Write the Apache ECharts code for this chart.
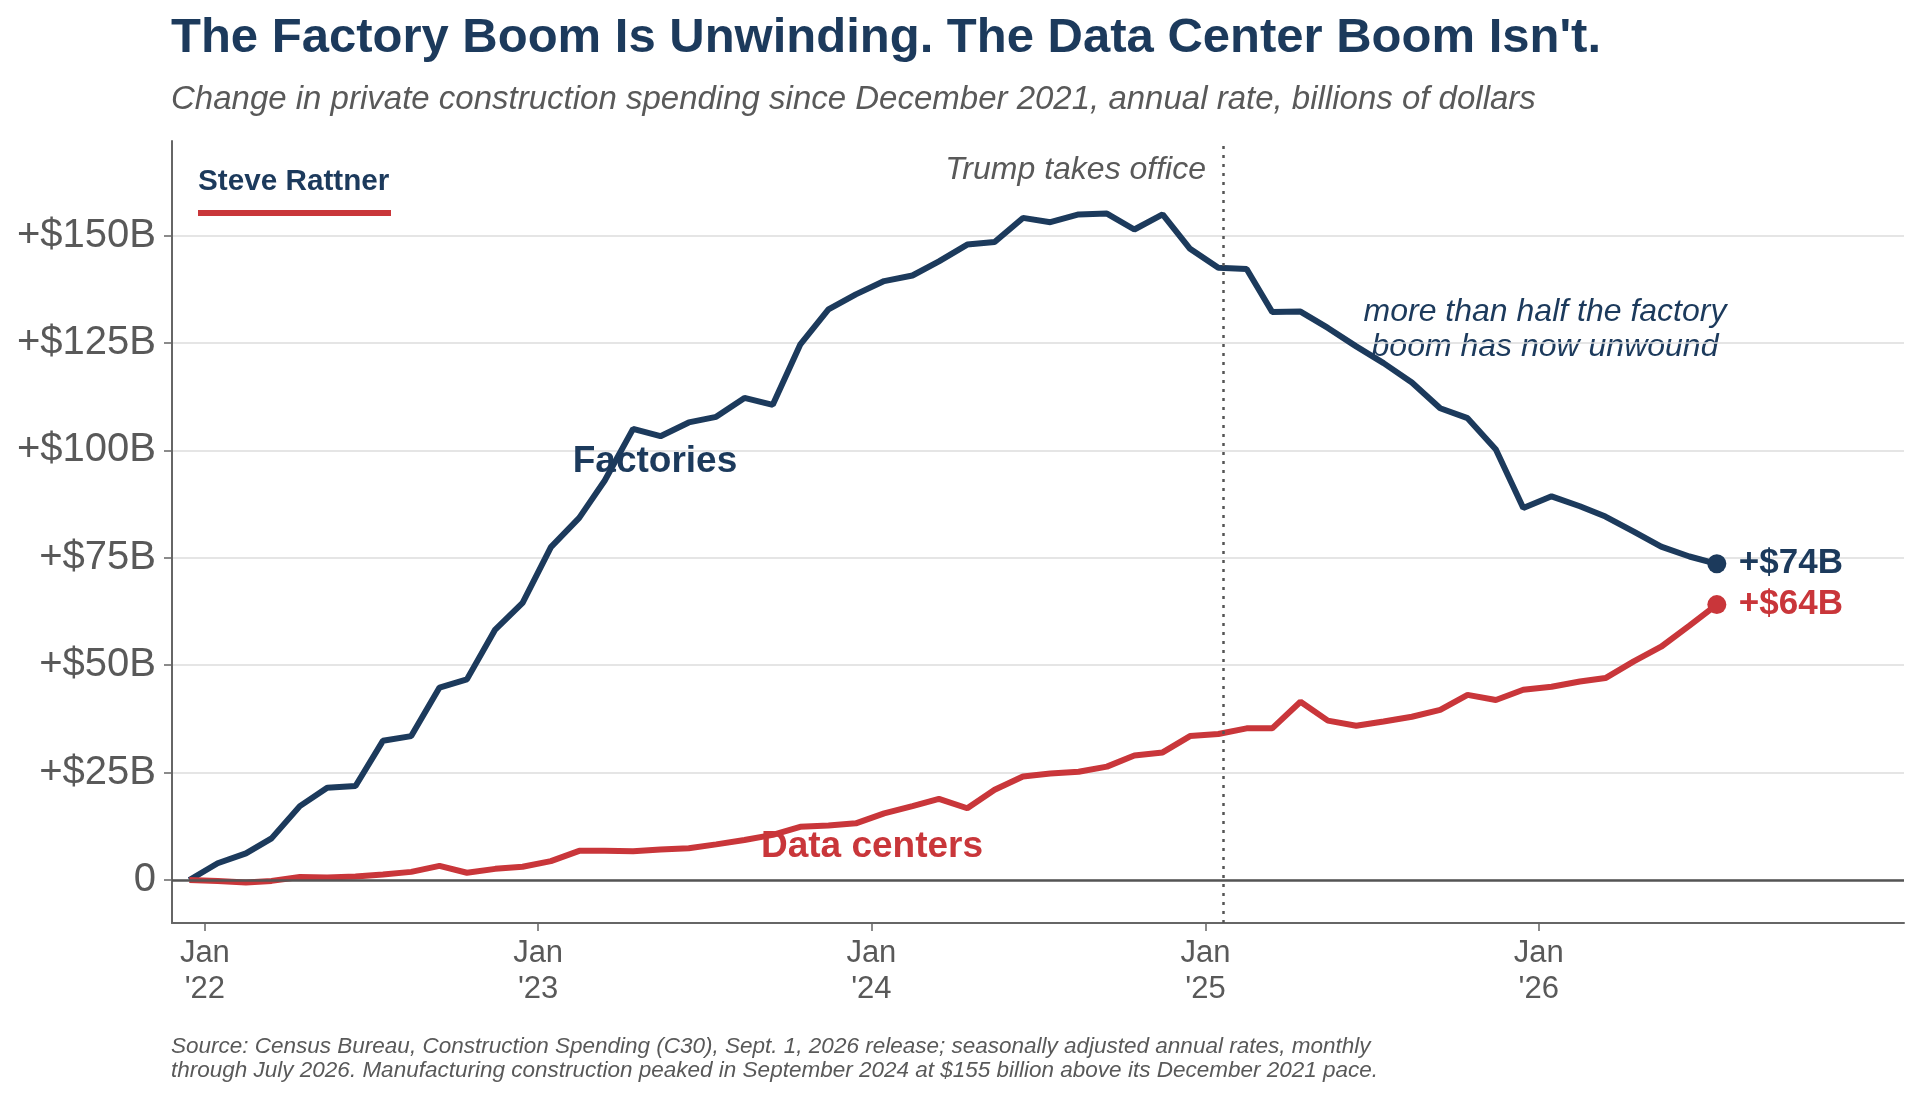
<!DOCTYPE html>
<html>
<head>
<meta charset="utf-8">
<script src="https://cdn.jsdelivr.net/npm/echarts@6.0.0/dist/echarts.min.js"></script>
<style>
  html, body { margin: 0; padding: 0; background: #fff; }
  #chart { width: 1920px; height: 1098px; }
</style>
</head>
<body>
<div id="chart"></div>
<script>
// monthly readings, Dec 2021 .. Jul 2026
const months = [
  '2021-12',
  '2022-01', '2022-02', '2022-03', '2022-04', '2022-05', '2022-06', '2022-07', '2022-08', '2022-09', '2022-10', '2022-11', '2022-12',
  '2023-01', '2023-02', '2023-03', '2023-04', '2023-05', '2023-06', '2023-07', '2023-08', '2023-09', '2023-10', '2023-11', '2023-12',
  '2024-01', '2024-02', '2024-03', '2024-04', '2024-05', '2024-06', '2024-07', '2024-08', '2024-09', '2024-10', '2024-11', '2024-12',
  '2025-01', '2025-02', '2025-03', '2025-04', '2025-05', '2025-06', '2025-07', '2025-08', '2025-09', '2025-10', '2025-11', '2025-12',
  '2026-01', '2026-02', '2026-03', '2026-04', '2026-05', '2026-06', '2026-07'
];

const factories = [
  0,
  3.9, 6.2, 9.7, 17.2, 21.5, 21.9, 32.4, 33.5, 44.8, 46.7, 58.3, 64.5,
  77.5, 84.3, 93.0, 105.0, 103.3, 106.5, 107.8, 112.2, 110.6, 124.6, 132.8, 136.3,
  139.4, 140.7, 144.0, 147.9, 148.5, 154.1, 153.1, 154.9, 155.1, 151.4, 154.9, 146.9,
  142.5, 142.2, 132.2, 132.3, 128.5, 124.2, 120.3, 115.8, 109.8, 107.5, 100.2, 86.6,
  89.3, 87.0, 84.6, 81.1, 77.6, 75.3, 73.6
];

const dataCenters = [
  0,
  -0.2, -0.6, -0.2, 0.7, 0.6, 0.8, 1.3, 1.9, 3.3, 1.7, 2.6, 3.1,
  4.4, 6.8, 6.8, 6.7, 7.1, 7.4, 8.3, 9.3, 10.5, 12.4, 12.7, 13.2,
  15.5, 17.2, 18.9, 16.7, 21.0, 24.1, 24.8, 25.2, 26.4, 29.0, 29.7, 33.5,
  34.0, 35.3, 35.3, 41.5, 37.1, 35.9, 36.9, 38.0, 39.6, 43.1, 41.9, 44.3,
  45.0, 46.2, 47.0, 50.9, 54.3, 59.2, 64.1
];

const yTicks = [0, 25, 50, 75, 100, 125, 150];
const xTicks = ['2022-01-01', '2023-01-01', '2024-01-01', '2025-01-01', '2026-01-01'];
const trumpDate = '2025-01-20';
const xRange = ['2021-11-26', '2027-02-05'];

const NAVY = '#1c3a5c';
const RED = '#c9363a';
const GREY = '#595959';
const FONT = '"Liberation Sans", Arial, sans-serif';

const ms = s => Date.parse(s + 'T00:00:00Z');
const lastIdx = months.length - 1;
const toPoints = vals => months.map((m, i) => [ms(m + '-15'), vals[i]]);
const endSize = (v, p) => (p.dataIndex === lastIdx ? 19 : 0);
const endText = p => '+$' + Math.round(p.value[1]) + 'B';
const xTickMs = xTicks.map(ms);

const chart = echarts.init(document.getElementById('chart'));

chart.setOption({
  animation: false,
  textStyle: { fontFamily: FONT },
  grid: { left: 172, right: 16, top: 141, bottom: 175 },
  xAxis: {
    type: 'value',
    min: ms(xRange[0]),
    max: ms(xRange[1]),
    axisLine: { show: true, onZero: false, lineStyle: { color: '#666', width: 2 } },
    axisTick: { show: true, customValues: xTickMs, length: 8, lineStyle: { color: '#666', width: 1.5 } },
    axisLabel: {
      customValues: xTickMs,
      formatter: v => 'Jan\n\'' + String(new Date(v).getUTCFullYear()).slice(2),
      fontSize: 31, lineHeight: 36, color: GREY, margin: 12, fontFamily: FONT
    },
    splitLine: { show: false }
  },
  yAxis: {
    type: 'value',
    min: -10,
    max: 172,
    axisLine: { show: true, onZero: false, lineStyle: { color: '#666', width: 2 } },
    axisTick: { show: true, customValues: yTicks, length: 8, lineStyle: { color: '#666', width: 1.5 } },
    axisLabel: {
      customValues: yTicks,
      formatter: v => (v === 0 ? '0' : '+$' + v + 'B'),
      fontSize: 40, color: GREY, margin: 16, fontFamily: FONT
    },
    splitLine: { show: true, lineStyle: { color: '#dddddd', width: 1.5 } }
  },
  series: [
    {
      name: 'Factories',
      type: 'line',
      data: toPoints(factories),
      symbol: 'circle',
      symbolSize: endSize,
      showAllSymbol: true,
      silent: true,
      lineStyle: { color: NAVY, width: 6 },
      itemStyle: { color: NAVY },
      endLabel: {
        show: true, formatter: endText, distance: 22,
        color: NAVY, fontSize: 35, fontWeight: 'bold', fontFamily: FONT
      },
      markLine: {
        silent: true,
        symbol: 'none',
        label: { show: false },
        data: [
          { yAxis: 0, lineStyle: { color: '#555', width: 2.5, type: 'solid' } },
          { xAxis: ms(trumpDate), lineStyle: { color: '#555', width: 2.5, type: [3, 6] } }
        ]
      },
      z: 3
    },
    {
      name: 'Data centers',
      type: 'line',
      data: toPoints(dataCenters),
      symbol: 'circle',
      symbolSize: endSize,
      showAllSymbol: true,
      silent: true,
      lineStyle: { color: RED, width: 6 },
      itemStyle: { color: RED },
      endLabel: {
        show: true, formatter: endText, distance: 22,
        color: RED, fontSize: 35, fontWeight: 'bold', fontFamily: FONT
      },
      z: 4
    }
  ],
  graphic: [
    { type: 'text', x: 171, y: 38, style: { text: "The Factory Boom Is Unwinding. The Data Center Boom Isn't.", fill: NAVY, font: 'bold 49px ' + FONT, textAlign: 'left', textVerticalAlign: 'middle' } },
    { type: 'text', x: 171, y: 100, style: { text: 'Change in private construction spending since December 2021, annual rate, billions of dollars', fill: GREY, font: 'italic 33px ' + FONT, textAlign: 'left', textVerticalAlign: 'middle' } },
    { type: 'text', x: 198, y: 182, style: { text: 'Steve Rattner', fill: NAVY, font: 'bold 29.7px ' + FONT, textAlign: 'left', textVerticalAlign: 'middle' } },
    { type: 'rect', shape: { x: 198, y: 210, width: 193, height: 6 }, style: { fill: RED } },
    { type: 'text', x: 1206, y: 170, style: { text: 'Trump takes office', fill: GREY, font: 'italic 32px ' + FONT, textAlign: 'right', textVerticalAlign: 'middle' } },
    { type: 'text', x: 1545, y: 330, style: { text: 'more than half the factory\nboom has now unwound', fill: NAVY, font: 'italic 32px ' + FONT, lineHeight: 35, textAlign: 'center', textVerticalAlign: 'middle' } },
    { type: 'text', x: 655, y: 462, z: 10, style: { text: 'Factories', fill: NAVY, font: 'bold 37px ' + FONT, textAlign: 'center', textVerticalAlign: 'middle' } },
    { type: 'text', x: 872, y: 847, z: 10, style: { text: 'Data centers', fill: RED, font: 'bold 37px ' + FONT, textAlign: 'center', textVerticalAlign: 'middle' } },
    { type: 'text', x: 171, y: 1059, style: { text: 'Source: Census Bureau, Construction Spending (C30), Sept. 1, 2026 release; seasonally adjusted annual rates, monthly\nthrough July 2026. Manufacturing construction peaked in September 2024 at $155 billion above its December 2021 pace.', fill: GREY, font: 'italic 22.5px ' + FONT, lineHeight: 24, textAlign: 'left', textVerticalAlign: 'middle' } }
  ]
});
</script>
</body>
</html>
